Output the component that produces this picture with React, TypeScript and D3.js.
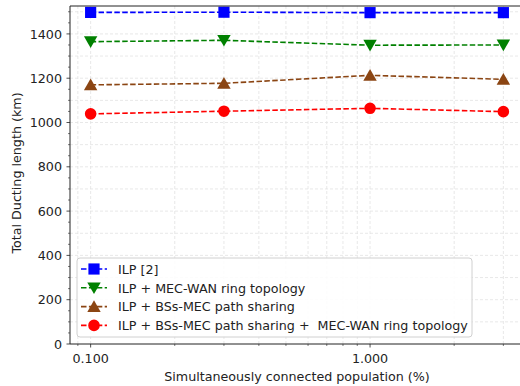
import { useEffect, useRef } from 'react'
import * as d3 from 'd3'

const POPULATION = [0.1, 0.3, 1, 3]
const ILP = [1497, 1498, 1496, 1496]
const RING = [1365, 1371, 1349, 1350]
const PATH_SHARING = [1170, 1177, 1213, 1195]
const BOTH = [1039, 1051, 1064, 1049]

const LABELS = [
  'ILP [2]',
  'ILP + MEC-WAN ring topology',
  'ILP + BSs-MEC path sharing',
  'ILP + BSs-MEC path sharing +  MEC-WAN ring topology',
]

const Y_TICKS = [0, 200, 400, 600, 800, 1000, 1200, 1400]
const X_TICKS = [0.1, 1]

interface Series {
  label: string
  values: number[]
  color: string
  marker: 'square' | 'down' | 'up' | 'circle'
}

const SERIES: Series[] = [
  { label: LABELS[0], values: ILP,          color: '#0000ff', marker: 'square' },
  { label: LABELS[1], values: RING,         color: '#008000', marker: 'down' },
  { label: LABELS[2], values: PATH_SHARING, color: '#8b4513', marker: 'up' },
  { label: LABELS[3], values: BOTH,         color: '#ff0000', marker: 'circle' },
]

const W = 520
const H = 386
const FONT = 'DejaVu Sans, sans-serif'
const FS = 12.7

function symbolPath(m: Series['marker']) {
  if (m === 'square') return d3.symbol(d3.symbolSquare, 125)()
  if (m === 'circle') return d3.symbol(d3.symbolCircle, 105)()
  return d3.symbol(d3.symbolTriangle, 78)()
}

function markerTransform(m: Series['marker'], px: number, py: number) {
  const dy = m === 'up' ? 1.5 : m === 'down' ? -1.5 : 0
  return `translate(${px},${py + dy})` + (m === 'down' ? ' rotate(180)' : '')
}

export default function App() {
  const ref = useRef<SVGSVGElement>(null)

  useEffect(() => {
    document.body.style.margin = '0'
    if (!ref.current) return
    const svg = d3.select(ref.current)
    svg.selectAll('*').remove()

    const left = 70, top = 6, right = 524, bottom = 344
    const pad = 0.05 * Math.log10(3 / 0.1)
    const x = d3.scaleLog()
      .domain([0.1 / Math.pow(10, pad), 3 * Math.pow(10, pad)])
      .range([left, right])
    const y = d3.scaleLinear().domain([0, 1526]).range([bottom, top])

    // grid
    const minorX: number[] = []
    for (const dec of [0.01, 0.1, 1]) {
      for (let k = 1; k < 10; k++) {
        const v = dec * k
        if (v >= x.domain()[0] && v <= x.domain()[1]) minorX.push(v)
      }
    }
    const grid = svg.append('g')
    grid.selectAll('line.gx')
      .data(minorX)
      .enter().append('line')
      .attr('x1', d => x(d)).attr('x2', d => x(d))
      .attr('y1', top).attr('y2', bottom)
      .attr('stroke', '#e2e2e2').attr('stroke-width', 0.8)
      .attr('stroke-dasharray', '3,2')
    grid.selectAll('line.gy')
      .data(d3.range(100, 1501, 100))
      .enter().append('line')
      .attr('x1', left).attr('x2', right)
      .attr('y1', d => y(d)).attr('y2', d => y(d))
      .attr('stroke', '#e2e2e2').attr('stroke-width', 0.8)
      .attr('stroke-dasharray', '3,2')

    // lines + markers
    const line = d3.line<number>()
      .x((_, i) => x(POPULATION[i]))
      .y(d => y(d))

    SERIES.forEach(s => {
      svg.append('path')
        .attr('d', line(s.values))
        .attr('fill', 'none')
        .attr('stroke', s.color)
        .attr('stroke-width', 1.6)
        .attr('stroke-dasharray', '5.5,2.4')
    })
    SERIES.forEach(s => {
      svg.selectAll(null)
        .data(s.values)
        .enter().append('path')
        .attr('d', symbolPath(s.marker))
        .attr('transform', (d, i) => markerTransform(s.marker, x(POPULATION[i]), y(d)))
        .attr('fill', s.color)
    })

    // axes spines
    const spine = '#222'
    svg.append('line').attr('x1', left).attr('x2', left).attr('y1', top).attr('y2', bottom)
      .attr('stroke', spine).attr('stroke-width', 1)
    svg.append('line').attr('x1', left).attr('x2', right).attr('y1', bottom).attr('y2', bottom)
      .attr('stroke', spine).attr('stroke-width', 1)
    svg.append('line').attr('x1', left).attr('x2', right).attr('y1', top).attr('y2', top)
      .attr('stroke', spine).attr('stroke-width', 1)

    // y ticks
    svg.selectAll('line.ym')
      .data(d3.range(0, 1526, 50).filter(v => v % 200 !== 0))
      .enter().append('line')
      .attr('x1', left - 2).attr('x2', left)
      .attr('y1', d => y(d)).attr('y2', d => y(d))
      .attr('stroke', spine).attr('stroke-width', 0.6)
    svg.selectAll('line.yM')
      .data(Y_TICKS)
      .enter().append('line')
      .attr('x1', left - 3.5).attr('x2', left)
      .attr('y1', d => y(d)).attr('y2', d => y(d))
      .attr('stroke', spine).attr('stroke-width', 0.8)
    svg.selectAll('text.yt')
      .data(Y_TICKS)
      .enter().append('text')
      .attr('x', left - 8).attr('y', d => y(d) + 4.6)
      .attr('text-anchor', 'end')
      .attr('font-family', FONT).attr('font-size', FS).attr('fill', '#222')
      .text(d => d)

    // x ticks
    svg.selectAll('line.xm')
      .data(minorX.filter(v => !X_TICKS.some(t => Math.abs(t - v) < 1e-9)))
      .enter().append('line')
      .attr('x1', d => x(d)).attr('x2', d => x(d))
      .attr('y1', bottom).attr('y2', bottom + 2)
      .attr('stroke', spine).attr('stroke-width', 0.6)
    svg.selectAll('line.xM')
      .data(X_TICKS)
      .enter().append('line')
      .attr('x1', d => x(d)).attr('x2', d => x(d))
      .attr('y1', bottom).attr('y2', bottom + 3.5)
      .attr('stroke', spine).attr('stroke-width', 0.8)
    svg.selectAll('text.xt')
      .data(X_TICKS)
      .enter().append('text')
      .attr('x', d => x(d)).attr('y', bottom + 18.5)
      .attr('text-anchor', 'middle')
      .attr('font-family', FONT).attr('font-size', FS).attr('fill', '#222')
      .text(d => d3.format('.3f')(d))

    // axis labels
    svg.append('text')
      .attr('x', 297).attr('y', 381)
      .attr('text-anchor', 'middle')
      .attr('font-family', FONT).attr('font-size', FS).attr('fill', '#222')
      .text('Simultaneously connected population (%)')
    svg.append('text')
      .attr('transform', `translate(21,${(top + bottom) / 2 - 2}) rotate(-90)`)
      .attr('text-anchor', 'middle')
      .attr('font-family', FONT).attr('font-size', FS).attr('fill', '#222')
      .text('Total Ducting length (km)')

    // legend
    const lg = svg.append('g').attr('transform', 'translate(77,258)')
    lg.append('rect')
      .attr('width', 395).attr('height', 79).attr('rx', 3)
      .attr('fill', 'white').attr('fill-opacity', 0.85)
      .attr('stroke', '#d0d0d0').attr('stroke-width', 1)
    SERIES.forEach((s, i) => {
      const cy = 11 + i * 18.8
      lg.append('line')
        .attr('x1', 4).attr('x2', 30).attr('y1', cy).attr('y2', cy)
        .attr('stroke', s.color).attr('stroke-width', 1.6)
        .attr('stroke-dasharray', '5.5,2.4')
      lg.append('path')
        .attr('d', symbolPath(s.marker))
        .attr('transform', markerTransform(s.marker, 17, cy))
        .attr('fill', s.color)
      lg.append('text')
        .attr('x', 41).attr('y', cy + 4.7)
        .attr('font-family', FONT).attr('font-size', FS).attr('fill', '#222')
        .style('white-space', 'pre')
        .text(s.label)
    })
  }, [])

  return <svg ref={ref} width={W} height={H} style={{ display: 'block' }} />
}
